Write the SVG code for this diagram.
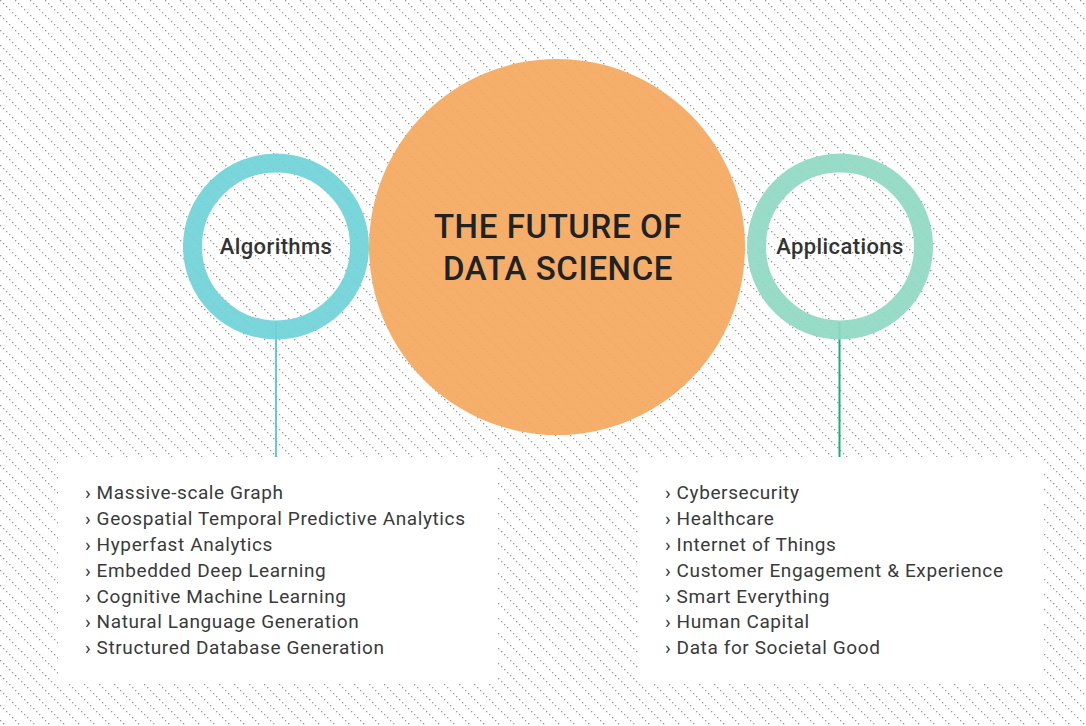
<svg xmlns="http://www.w3.org/2000/svg" width="1086" height="726" viewBox="0 0 1086 726">
<defs>
<pattern id="hatch" width="15" height="15" patternUnits="userSpaceOnUse">
<rect x="0" y="0" width="1.3" height="1.3" fill="#9a9a9a"/>
<rect x="3" y="3" width="1.3" height="1.3" fill="#9a9a9a"/>
<rect x="6" y="6" width="1.3" height="1.3" fill="#9a9a9a"/>
<rect x="9" y="9" width="1.3" height="1.3" fill="#9a9a9a"/>
<rect x="12" y="12" width="1.3" height="1.3" fill="#9a9a9a"/>
</pattern>
<style>
.t{font-family:Roboto,"DejaVu Sans",sans-serif;fill:#333333}
.label{font-size:22px;text-anchor:middle;letter-spacing:0.4px;font-weight:500}
.title{font-size:33px;text-anchor:middle;fill:#222222;letter-spacing:0.6px;font-weight:500}
.item{font-size:19px;fill:#3a3a3a;letter-spacing:0.6px}
</style>
</defs>
<rect width="1086" height="726" fill="#ffffff"/>
<rect width="1086" height="726" fill="url(#hatch)"/>
<g id="connectors">
<line x1="276" y1="322" x2="276" y2="457" stroke="#2bbfc7" stroke-width="1.5"/>
<line x1="839.5" y1="322" x2="839.5" y2="457" stroke="#1fa97c" stroke-width="2"/>
</g>
<g id="center">
<circle cx="557" cy="247" r="188" fill="#f5a85d" fill-opacity="0.92"/>
<text class="t title" x="558" y="238">THE FUTURE OF</text>
<text class="t title" x="558" y="280">DATA SCIENCE</text>
</g>
<g id="algorithms">
<circle cx="276" cy="246.5" r="83.5" fill="none" stroke="#6fd3d8" stroke-opacity="0.92" stroke-width="19"/>
<text class="t label" x="276" y="254">Algorithms</text>
</g>
<g id="applications">
<circle cx="840" cy="246.5" r="83.5" fill="none" stroke="#8fd9c2" stroke-opacity="0.92" stroke-width="19"/>
<text class="t label" x="840" y="254">Applications</text>
</g>
<g id="algorithms-list">
<rect x="58" y="457" width="439" height="226" fill="#ffffff"/>
<text class="t item" x="85" y="499">› Massive-scale Graph</text>
<text class="t item" x="85" y="525">› Geospatial Temporal Predictive Analytics</text>
<text class="t item" x="85" y="551">› Hyperfast Analytics</text>
<text class="t item" x="85" y="577">› Embedded Deep Learning</text>
<text class="t item" x="85" y="603">› Cognitive Machine Learning</text>
<text class="t item" x="85" y="628">› Natural Language Generation</text>
<text class="t item" x="85" y="654">› Structured Database Generation</text>
</g>
<g id="applications-list">
<rect x="638" y="457" width="405" height="226" fill="#ffffff"/>
<text class="t item" x="665" y="499">› Cybersecurity</text>
<text class="t item" x="665" y="525">› Healthcare</text>
<text class="t item" x="665" y="551">› Internet of Things</text>
<text class="t item" x="665" y="577">› Customer Engagement &amp; Experience</text>
<text class="t item" x="665" y="603">› Smart Everything</text>
<text class="t item" x="665" y="628">› Human Capital</text>
<text class="t item" x="665" y="654">› Data for Societal Good</text>
</g>
</svg>
